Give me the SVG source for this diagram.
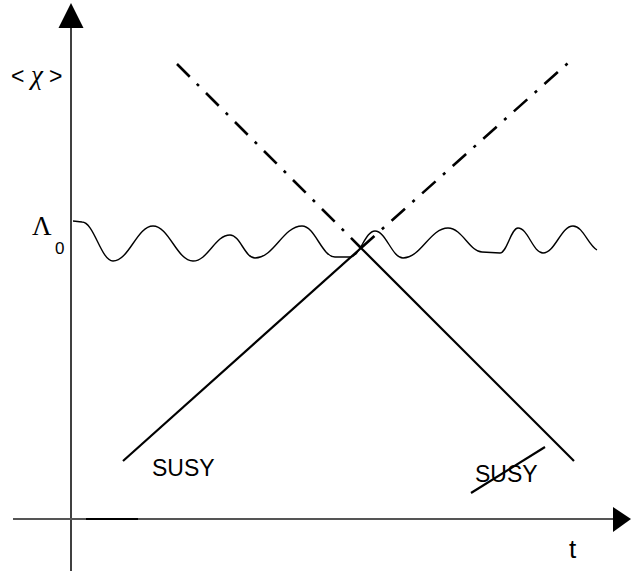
<svg xmlns="http://www.w3.org/2000/svg" width="631" height="571" viewBox="0 0 631 571">
<style>
.solid{stroke:#000;stroke-width:2.2;fill:none}
.dd{stroke:#000;stroke-width:2.6;fill:none;stroke-dasharray:18 10 3 10}
.wave{stroke:#000;stroke-width:1.4;fill:none;stroke-linejoin:round}
.sans{font-family:"Liberation Sans",Arial,sans-serif;fill:#000}
.serif{font-family:"Liberation Serif","Times New Roman",serif;fill:#000}
</style>
<rect width="631" height="571" fill="#fff"/>
<g id="axes">
<line x1="71" y1="26" x2="71" y2="571" stroke="#000" stroke-width="1.5"/>
<polygon points="71,3 58.5,28 83.5,28" fill="#000"/>
<line x1="13" y1="519" x2="615" y2="519" stroke="#555" stroke-width="2"/>
<line x1="86" y1="519" x2="138" y2="519" stroke="#000" stroke-width="2"/>
<polygon points="631,519 613,507 613,532" fill="#000"/>
</g>
<g id="labels">
<text class="sans" x="11" y="84" font-size="23">&lt;</text>
<text class="serif" x="31" y="84" font-size="27" font-style="italic">χ</text>
<text class="sans" x="49" y="84" font-size="23">&gt;</text>
<text class="serif" x="32" y="235" font-size="27">Λ</text>
<text class="sans" x="55" y="254" font-size="17">0</text>
<text class="sans" x="569" y="558" font-size="26">t</text>
</g>
<g id="wave">
<path class="wave" d="M73,221 L82,222 C94,222 101,261 113,261 C129,261 137,226 153,226 C169,226 177,261 193,261 C208,261 215,235 230,235 C240,235 245,258 255,258 C274,258 283,226 302,226 C315,226 322,257 335,257 L350,257 C360,257 365,231 375,231 C386,231 392,258 403,258 C421,258 430,228 448,228 C462,228 470,252 482,252 L500,253 C507,253 511,228 518,228 C528,228 533,253 543,253 C555,253 561,226 573,226 C583,226 588,245 597,250"/>
</g>
<g id="connectors">
<line class="dd" x1="177" y1="64" x2="361" y2="248"/>
<line class="solid" x1="361" y1="248" x2="574" y2="461"/>
<line class="solid" x1="123" y1="461" x2="361" y2="248"/>
<line class="dd" x1="361" y1="248" x2="568" y2="63"/>
</g>
<g id="susy-left">
<text class="sans" x="152" y="476" font-size="23">SUSY</text>
</g>
<g id="susy-right">
<text class="sans" x="475" y="482" font-size="23">SUSY</text>
<line class="solid" x1="471" y1="493" x2="545" y2="447"/>
</g>
</svg>
